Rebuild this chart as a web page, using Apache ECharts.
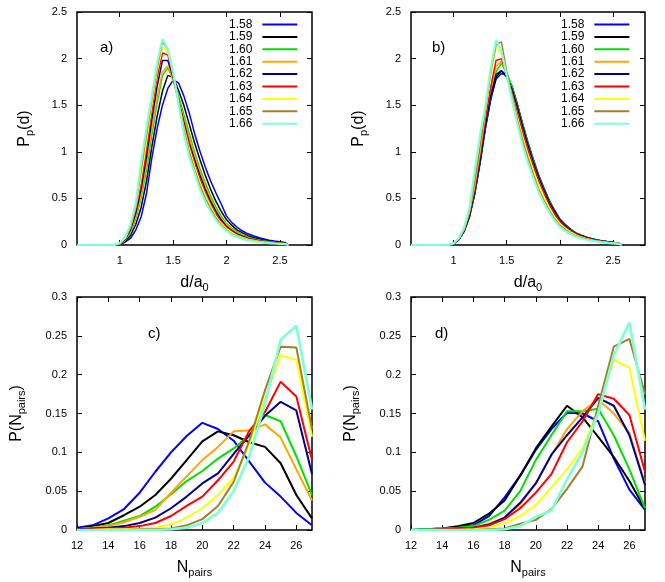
<!DOCTYPE html>
<html>
<head>
<meta charset="utf-8">
<script src="https://cdn.jsdelivr.net/npm/echarts@6/dist/echarts.min.js"></script>
<style>
  html, body { margin: 0; padding: 0; background: #fff; }
  #chart { width: 665px; height: 582px; }
</style>
</head>
<body>
<div id="chart"></div>
<script>
// legend labels and line colours (same order in every panel)
const labels = ['1.58', '1.59', '1.60', '1.61', '1.62', '1.63', '1.64', '1.65', '1.66'];
const colors = ['#0000ff', '#000000', '#00e000', '#ffa500', '#00008b', '#ff0000', '#ffff00', '#a0802c', '#7fffd4'];

// d/a0 sample positions for panels a) and b)
const dGrid = [0.6, 0.95, 1.0, 1.05, 1.1, 1.15, 1.2, 1.25, 1.3, 1.35, 1.4, 1.45, 1.5, 1.55, 1.6, 1.65,
  1.7, 1.75, 1.8, 1.85, 1.9, 1.95, 2.0, 2.05, 2.1, 2.15, 2.2, 2.25, 2.3, 2.35, 2.4, 2.45, 2.5, 2.55, 2.58];

// N_pairs for panels c) and d)
const nPairs = [12, 13, 14, 15, 16, 17, 18, 19, 20, 21, 22, 23, 24, 25, 26, 27];

// a) Pp(d)
const panelA = [
  [0, 0, 0.005, 0.03, 0.07, 0.16, 0.3, 0.55, 0.93, 1.25, 1.5, 1.68, 1.77, 1.74, 1.6, 1.42, 1.2, 1.01, 0.84, 0.69, 0.56, 0.44, 0.31, 0.24, 0.19, 0.15, 0.12, 0.1, 0.08, 0.065, 0.05, 0.042, 0.035, 0.026, 0],
  [0, 0, 0.006, 0.04, 0.1, 0.22, 0.4, 0.68, 1.05, 1.38, 1.65, 1.82, 1.8, 1.66, 1.5, 1.3, 1.1, 0.92, 0.75, 0.6, 0.47, 0.36, 0.27, 0.21, 0.16, 0.13, 0.1, 0.08, 0.065, 0.05, 0.04, 0.033, 0.027, 0.02, 0],
  [0, 0, 0.008, 0.05, 0.13, 0.28, 0.5, 0.8, 1.18, 1.52, 1.82, 1.9, 1.78, 1.6, 1.4, 1.2, 1.0, 0.82, 0.67, 0.53, 0.41, 0.31, 0.23, 0.18, 0.14, 0.11, 0.085, 0.068, 0.055, 0.044, 0.035, 0.028, 0.022, 0.016, 0],
  [0, 0, 0.01, 0.055, 0.14, 0.3, 0.54, 0.86, 1.24, 1.58, 1.86, 1.92, 1.76, 1.56, 1.36, 1.16, 0.97, 0.79, 0.64, 0.5, 0.38, 0.29, 0.22, 0.17, 0.13, 0.1, 0.078, 0.062, 0.05, 0.04, 0.032, 0.026, 0.02, 0.015, 0],
  [0, 0, 0.012, 0.06, 0.16, 0.34, 0.6, 0.94, 1.34, 1.7, 1.98, 1.98, 1.8, 1.55, 1.32, 1.1, 0.92, 0.75, 0.6, 0.47, 0.36, 0.27, 0.2, 0.155, 0.12, 0.094, 0.073, 0.058, 0.046, 0.037, 0.03, 0.024, 0.019, 0.014, 0],
  [0, 0.001, 0.014, 0.065, 0.18, 0.38, 0.66, 1.02, 1.44, 1.8, 2.06, 2.04, 1.82, 1.54, 1.29, 1.07, 0.88, 0.71, 0.56, 0.44, 0.33, 0.25, 0.19, 0.145, 0.11, 0.087, 0.068, 0.054, 0.043, 0.035, 0.028, 0.022, 0.018, 0.013, 0],
  [0, 0.001, 0.016, 0.07, 0.19, 0.41, 0.72, 1.1, 1.5, 1.86, 2.12, 2.08, 1.84, 1.54, 1.27, 1.04, 0.85, 0.68, 0.54, 0.42, 0.31, 0.235, 0.175, 0.135, 0.1, 0.08, 0.063, 0.05, 0.04, 0.032, 0.026, 0.02, 0.016, 0.012, 0],
  [0, 0.001, 0.018, 0.075, 0.2, 0.43, 0.8, 1.18, 1.56, 1.9, 2.18, 2.1, 1.85, 1.53, 1.24, 1.0, 0.81, 0.64, 0.5, 0.39, 0.29, 0.215, 0.16, 0.12, 0.09, 0.07, 0.055, 0.044, 0.035, 0.028, 0.022, 0.018, 0.014, 0.01, 0],
  [0, 0.002, 0.02, 0.08, 0.22, 0.45, 0.88, 1.25, 1.6, 1.95, 2.21, 2.1, 1.85, 1.52, 1.2, 0.95, 0.78, 0.6, 0.47, 0.36, 0.27, 0.2, 0.15, 0.11, 0.085, 0.065, 0.05, 0.04, 0.032, 0.026, 0.02, 0.016, 0.013, 0.01, 0]
];

// b) Pp(d)
const panelB = [
  [0, 0.001, 0.012, 0.06, 0.15, 0.3, 0.55, 0.88, 1.25, 1.56, 1.78, 1.84, 1.82, 1.7, 1.5, 1.28, 1.08, 0.9, 0.73, 0.59, 0.46, 0.36, 0.27, 0.21, 0.16, 0.125, 0.1, 0.08, 0.064, 0.052, 0.042, 0.034, 0.027, 0.02, 0],
  [0, 0.001, 0.012, 0.06, 0.15, 0.31, 0.56, 0.9, 1.27, 1.58, 1.8, 1.87, 1.82, 1.7, 1.51, 1.3, 1.1, 0.92, 0.75, 0.61, 0.48, 0.37, 0.28, 0.22, 0.17, 0.13, 0.105, 0.084, 0.067, 0.054, 0.044, 0.035, 0.028, 0.02, 0],
  [0, 0.001, 0.012, 0.06, 0.15, 0.31, 0.56, 0.9, 1.28, 1.6, 1.86, 1.95, 1.85, 1.7, 1.5, 1.29, 1.09, 0.91, 0.74, 0.6, 0.47, 0.36, 0.275, 0.215, 0.165, 0.13, 0.1, 0.08, 0.064, 0.052, 0.042, 0.034, 0.027, 0.02, 0],
  [0, 0.001, 0.013, 0.065, 0.16, 0.33, 0.6, 0.95, 1.33, 1.66, 1.92, 1.97, 1.82, 1.64, 1.43, 1.22, 1.03, 0.86, 0.7, 0.56, 0.44, 0.34, 0.26, 0.2, 0.155, 0.12, 0.094, 0.075, 0.06, 0.048, 0.039, 0.031, 0.025, 0.018, 0],
  [0, 0.001, 0.012, 0.06, 0.15, 0.31, 0.57, 0.9, 1.28, 1.6, 1.83, 1.87, 1.8, 1.67, 1.48, 1.27, 1.07, 0.89, 0.73, 0.59, 0.46, 0.36, 0.27, 0.21, 0.16, 0.125, 0.1, 0.08, 0.064, 0.052, 0.042, 0.034, 0.027, 0.02, 0],
  [0, 0.001, 0.013, 0.065, 0.16, 0.34, 0.61, 0.97, 1.36, 1.7, 1.98, 2.0, 1.83, 1.63, 1.42, 1.21, 1.02, 0.85, 0.69, 0.55, 0.43, 0.33, 0.25, 0.195, 0.15, 0.117, 0.092, 0.073, 0.058, 0.047, 0.038, 0.03, 0.024, 0.017, 0],
  [0, 0.001, 0.014, 0.07, 0.17, 0.36, 0.65, 1.02, 1.43, 1.82, 2.12, 2.05, 1.84, 1.6, 1.37, 1.16, 0.97, 0.8, 0.65, 0.52, 0.4, 0.3, 0.23, 0.18, 0.14, 0.108, 0.085, 0.067, 0.053, 0.043, 0.035, 0.028, 0.022, 0.016, 0],
  [0, 0.001, 0.015, 0.072, 0.18, 0.38, 0.68, 1.06, 1.46, 1.86, 2.15, 2.18, 1.86, 1.58, 1.34, 1.12, 0.93, 0.76, 0.6, 0.48, 0.37, 0.28, 0.21, 0.165, 0.125, 0.098, 0.077, 0.061, 0.049, 0.04, 0.032, 0.026, 0.02, 0.015, 0],
  [0, 0.002, 0.016, 0.075, 0.19, 0.4, 0.8, 1.18, 1.5, 1.9, 2.2, 2.08, 1.82, 1.55, 1.3, 1.07, 0.88, 0.72, 0.57, 0.45, 0.35, 0.26, 0.195, 0.15, 0.115, 0.09, 0.07, 0.056, 0.045, 0.036, 0.029, 0.023, 0.018, 0.013, 0]
];

// c) P(N_pairs)
const panelC = [
  [0.003, 0.006, 0.015, 0.027, 0.048, 0.075, 0.100, 0.121, 0.138, 0.130, 0.115, 0.088, 0.061, 0.043, 0.022, 0.006],
  [0.002, 0.005, 0.009, 0.019, 0.030, 0.045, 0.066, 0.090, 0.114, 0.127, 0.122, 0.113, 0.107, 0.086, 0.045, 0.015],
  [0.001, 0.003, 0.006, 0.012, 0.018, 0.030, 0.046, 0.063, 0.076, 0.092, 0.105, 0.122, 0.148, 0.140, 0.095, 0.045],
  [0.001, 0.003, 0.005, 0.010, 0.017, 0.026, 0.048, 0.069, 0.090, 0.107, 0.127, 0.128, 0.136, 0.119, 0.078, 0.038],
  [0.001, 0.002, 0.003, 0.005, 0.009, 0.016, 0.028, 0.043, 0.060, 0.073, 0.098, 0.122, 0.147, 0.165, 0.154, 0.072],
  [0.000, 0.001, 0.002, 0.003, 0.005, 0.009, 0.018, 0.031, 0.043, 0.064, 0.088, 0.128, 0.152, 0.191, 0.172, 0.090],
  [0.000, 0.000, 0.001, 0.001, 0.002, 0.003, 0.007, 0.016, 0.028, 0.045, 0.067, 0.110, 0.170, 0.225, 0.219, 0.120],
  [0.000, 0.000, 0.000, 0.000, 0.001, 0.001, 0.002, 0.006, 0.014, 0.031, 0.062, 0.115, 0.180, 0.236, 0.235, 0.130],
  [0.000, 0.000, 0.000, 0.000, 0.000, 0.000, 0.001, 0.003, 0.009, 0.022, 0.050, 0.095, 0.163, 0.245, 0.263, 0.155]
];

// d) P(N_pairs)
const panelD = [
  [0.000, 0.001, 0.002, 0.004, 0.006, 0.018, 0.042, 0.070, 0.103, 0.130, 0.151, 0.150, 0.140, 0.092, 0.052, 0.026],
  [0.000, 0.001, 0.002, 0.005, 0.009, 0.021, 0.038, 0.070, 0.105, 0.133, 0.160, 0.145, 0.120, 0.094, 0.063, 0.027],
  [0.000, 0.001, 0.002, 0.003, 0.005, 0.013, 0.025, 0.050, 0.090, 0.122, 0.153, 0.153, 0.156, 0.122, 0.078, 0.028],
  [0.000, 0.000, 0.001, 0.002, 0.003, 0.008, 0.016, 0.033, 0.060, 0.096, 0.130, 0.153, 0.168, 0.150, 0.125, 0.060],
  [0.000, 0.000, 0.001, 0.002, 0.003, 0.007, 0.016, 0.035, 0.060, 0.097, 0.122, 0.145, 0.170, 0.160, 0.122, 0.058],
  [0.000, 0.000, 0.001, 0.002, 0.003, 0.006, 0.014, 0.028, 0.048, 0.072, 0.113, 0.140, 0.175, 0.169, 0.148, 0.075],
  [0.000, 0.000, 0.000, 0.000, 0.001, 0.003, 0.009, 0.018, 0.032, 0.055, 0.078, 0.105, 0.155, 0.219, 0.209, 0.115],
  [0.000, 0.000, 0.000, 0.000, 0.000, 0.001, 0.002, 0.008, 0.013, 0.027, 0.053, 0.082, 0.160, 0.236, 0.246, 0.175],
  [0.000, 0.000, 0.000, 0.000, 0.000, 0.000, 0.001, 0.005, 0.017, 0.025, 0.065, 0.100, 0.150, 0.225, 0.267, 0.155]
];

// tick labels
const dTicks = [1, 1.5, 2, 2.5];
const nTicks = [12, 14, 16, 18, 20, 22, 24, 26];

const FONT = 'Liberation Sans';
const nameRich = {
  b: { fontSize: 16, fontFamily: FONT, color: '#000' },
  s: { fontSize: 11, fontFamily: FONT, color: '#000', padding: [9, 0, 0, 0] }
};

const grids = [
  { left: 77, top: 12, width: 235, height: 233 },
  { left: 411, top: 12, width: 234, height: 233 },
  { left: 77, top: 297, width: 235, height: 233 },
  { left: 411, top: 297, width: 234, height: 233 }
].map((g) => ({ ...g, show: true, borderColor: '#000', borderWidth: 1.5, containLabel: false }));

const tick = { show: true, inside: true, length: 5, lineStyle: { color: '#000', width: 1 } };
const label = { color: '#000', fontSize: 11, fontFamily: FONT, margin: 10 };

function xPair(gridIndex, min, max, ticks, name) {
  return [
    {
      type: 'value', gridIndex, min, max, position: 'bottom',
      axisLine: { show: false, onZero: false },
      axisTick: { ...tick, customValues: ticks },
      axisLabel: { ...label, customValues: ticks },
      splitLine: { show: false },
      name, nameLocation: 'middle', nameGap: 28,
      nameTextStyle: { rich: nameRich }
    },
    {
      type: 'value', gridIndex, min, max, position: 'top',
      axisLine: { show: false, onZero: false },
      axisTick: { ...tick, customValues: ticks },
      axisLabel: { show: false },
      splitLine: { show: false }
    }
  ];
}

function yPair(gridIndex, max, interval, name, gap) {
  return [
    {
      type: 'value', gridIndex, min: 0, max, interval, position: 'left',
      axisLine: { show: false, onZero: false },
      axisTick: tick,
      axisLabel: label,
      splitLine: { show: false },
      name, nameLocation: 'middle', nameGap: gap,
      nameTextStyle: { rich: nameRich }
    },
    {
      type: 'value', gridIndex, min: 0, max, interval, position: 'right',
      axisLine: { show: false, onZero: false },
      axisTick: tick,
      axisLabel: { show: false },
      splitLine: { show: false }
    }
  ];
}

const dName = '{b|d/a}{s|0}';
const nName = '{b|N}{s|pairs}';
const ppName = '{b|P}{s|p}{b|(d)}';
const pnName = '{b|P(N}{s|pairs}{b|)}';

const xAxes = [
  ...xPair(0, 0.6, 2.8, dTicks, dName),
  ...xPair(1, 0.6, 2.8, dTicks, dName),
  ...xPair(2, 12, 27, nTicks, nName),
  ...xPair(3, 12, 27, nTicks, nName)
];
const yAxes = [
  ...yPair(0, 2.5, 0.5, ppName, 42),
  ...yPair(1, 2.5, 0.5, ppName, 42),
  ...yPair(2, 0.3, 0.05, pnName, 50),
  ...yPair(3, 0.3, 0.05, pnName, 50)
];

const series = [];
function addPanel(panel, xs, axisIndex, width) {
  panel.forEach((values, i) => {
    // the last (aquamarine) curve is drawn a bit wider, as in the original
    const w = i === panel.length - 1 ? width + 0.7 : width;
    series.push({
      name: labels[i],
      type: 'line',
      xAxisIndex: axisIndex,
      yAxisIndex: axisIndex,
      data: values.map((v, k) => [xs[k], v]),
      showSymbol: false,
      symbol: 'none',
      lineStyle: { color: colors[i], width: w },
      itemStyle: { color: colors[i] },
      z: 2 + i
    });
  });
}
addPanel(panelA, dGrid, 0, 1.5);
addPanel(panelB, dGrid, 2, 1.5);
addPanel(panelC, nPairs, 4, 2);
addPanel(panelD, nPairs, 6, 2);

const legendBase = {
  orient: 'vertical', align: 'right', top: 18.5, padding: 0,
  itemWidth: 35, itemHeight: 2, itemGap: 0.4, icon: 'rect',
  selectedMode: false, data: labels,
  textStyle: { fontSize: 12, fontFamily: FONT, color: '#000', lineHeight: 12, padding: [0, 5, 0, 0] }
};

const panelTag = (text, left, top) => ({
  type: 'text', left, top,
  style: { text, fontSize: 15, fontFamily: FONT, fill: '#000' }
});

const chart = echarts.init(document.getElementById('chart'));
chart.setOption({
  animation: false,
  backgroundColor: '#fff',
  textStyle: { fontFamily: FONT },
  grid: grids,
  xAxis: xAxes,
  yAxis: yAxes,
  legend: [
    { ...legendBase, left: 229 },
    { ...legendBase, left: 561 }
  ],
  graphic: [
    panelTag('a)', 100, 40),
    panelTag('b)', 432, 40),
    panelTag('c)', 148, 326),
    panelTag('d)', 435, 326)
  ],
  series
});
</script>
</body>
</html>
